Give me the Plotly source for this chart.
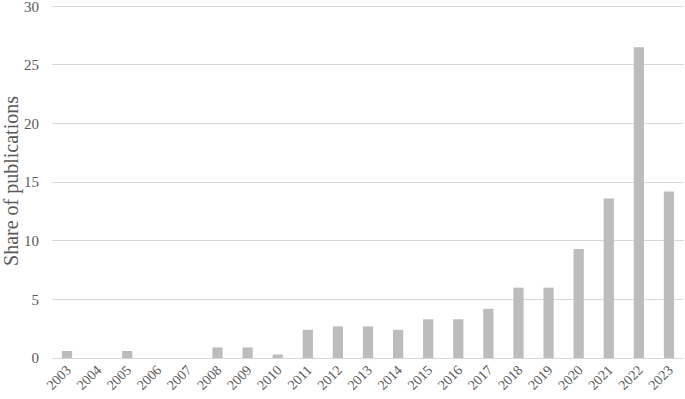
import plotly.graph_objects as go

years = [str(y) for y in range(2003, 2024)]
share = [0.6, 0, 0.6, 0, 0, 0.9, 0.9, 0.3, 2.4, 2.7, 2.7, 2.4, 3.3, 3.3, 4.2, 6.0, 6.0, 9.3, 13.6, 26.5, 14.2]
y_ticks = [0, 5, 10, 15, 20, 25, 30]

fig = go.Figure(go.Bar(x=years, y=share, marker_color="#bcbcbc", marker_line_width=0))

font_fam = "Liberation Serif, Times New Roman, serif"
fig.update_layout(
    width=685, height=399,
    margin=dict(l=52, r=1, t=4, b=41),
    plot_bgcolor="white", paper_bgcolor="white",
    bargap=0.66,
    showlegend=False,
    font=dict(family=font_fam, color="#595959", size=14),
)
fig.update_xaxes(type="category", tickangle=-45, showgrid=False, showline=False,
                 ticks="", automargin=False,
                 tickfont=dict(size=14, family=font_fam, color="#595959"))
fig.update_yaxes(range=[0, 30.2], tickvals=y_ticks, showgrid=True, gridcolor="#d9d9d9",
                 gridwidth=1, zeroline=True, zerolinecolor="#d9d9d9", zerolinewidth=1,
                 ticks="", ticklabelstandoff=12, automargin=False, ticklabeloverflow="allow",
                 tickfont=dict(size=15, family=font_fam, color="#595959"),
                 title=dict(text="Share of publications", font=dict(size=20, family=font_fam, color="#595959"), standoff=12))

fig.write_html("out.html", config={"displayModeBar": False},
               post_script="document.body.style.margin='0';document.body.style.padding='0';")
